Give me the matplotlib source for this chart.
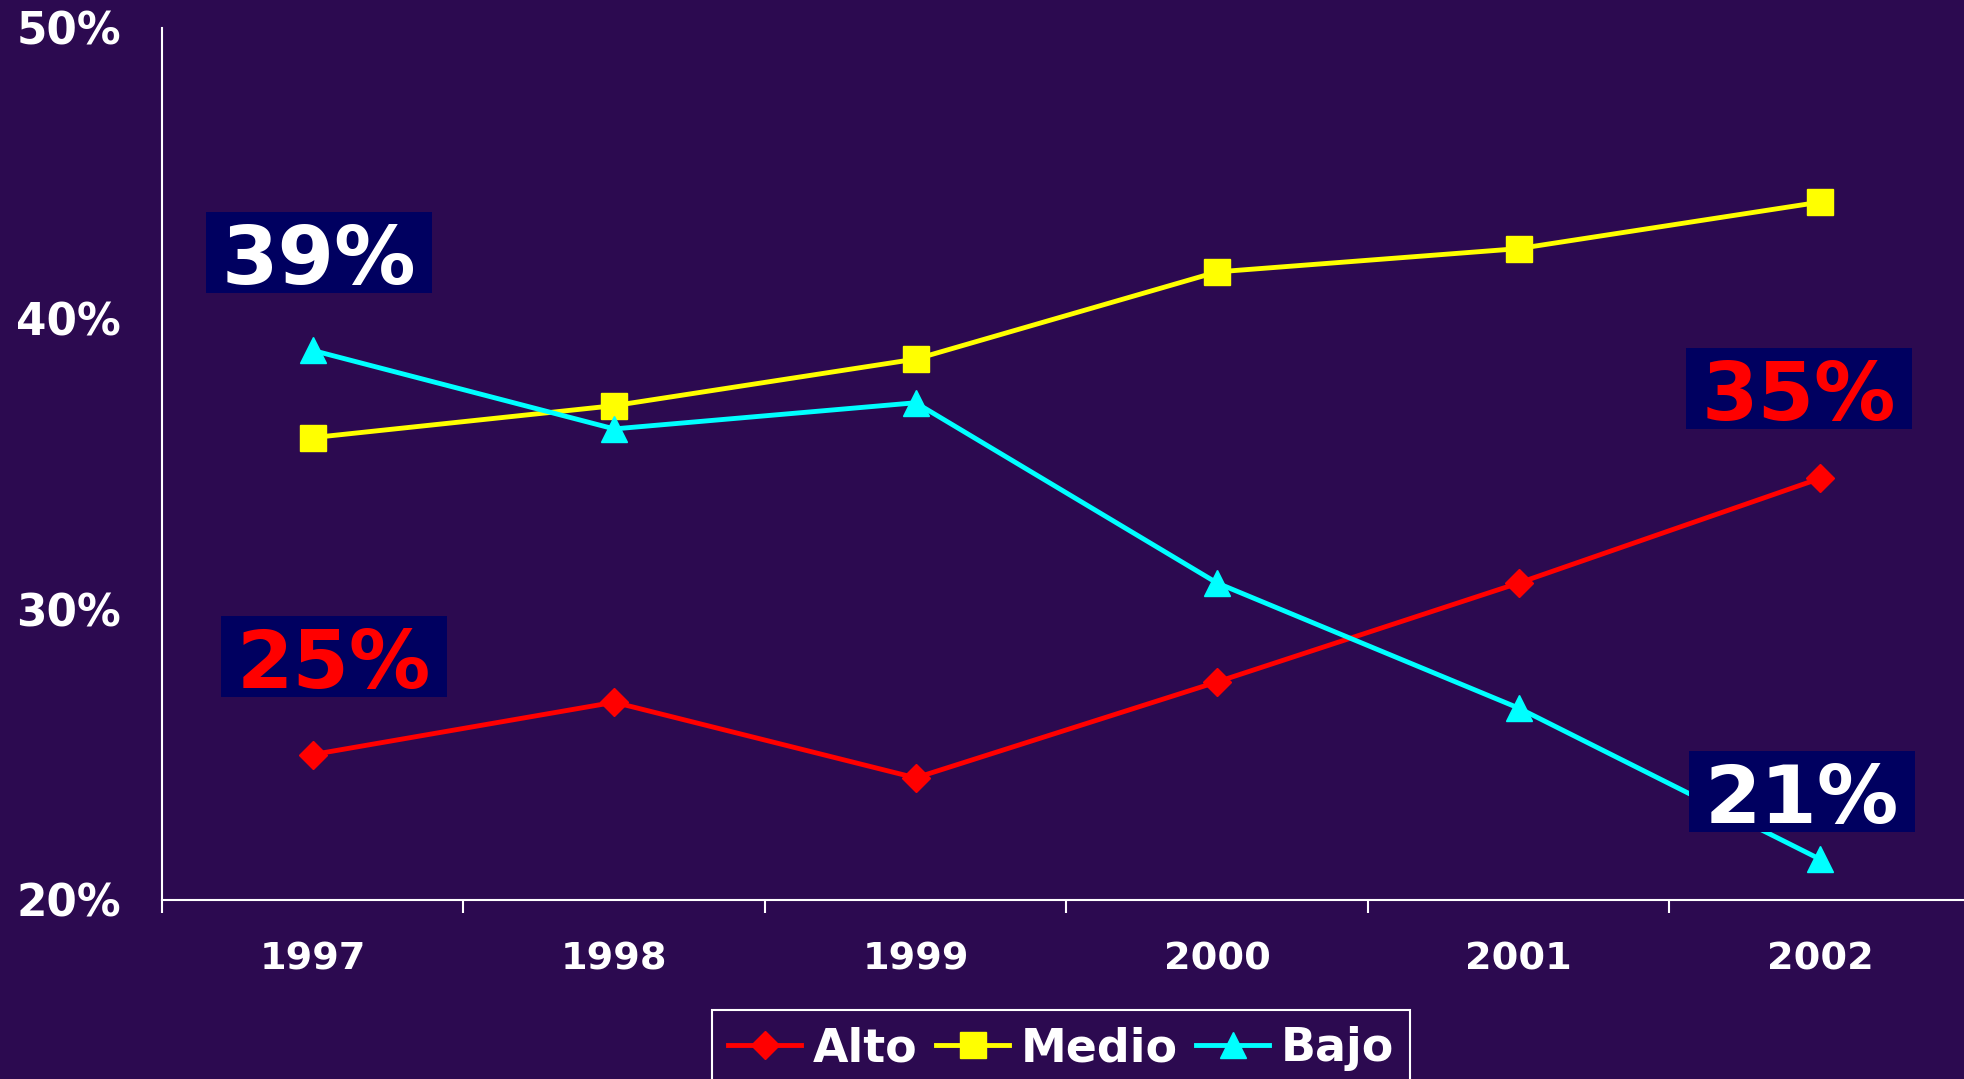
"""Line chart: share by level (Alto / Medio / Bajo), 1997-2002."""

import matplotlib
matplotlib.use("Agg")
import matplotlib.pyplot as plt
from matplotlib.patches import Rectangle
from matplotlib.transforms import ScaledTranslation

years = ["1997", "1998", "1999", "2000", "2001", "2002"]
alto = [25.0, 26.8, 24.2, 27.5, 30.9, 34.5]
medio = [35.9, 37.0, 38.6, 41.6, 42.4, 44.0]
bajo = [38.9, 36.2, 37.1, 30.9, 26.6, 21.4]
y_ticks = [20, 30, 40, 50]

# callout boxes: text, text colour, centre (category index, percent)
callout_text = ["39%", "35%", "25%", "21%"]
callout_color = ["white", "#FF0000", "#FF0000", "white"]
callout_x = [0.02, 4.93, 0.07, 4.94]
callout_y = [42.27, 37.59, 28.36, 23.72]

BG = "#2C0A50"
BOX = "#000060"

plt.rcParams["font.family"] = ["DejaVu Sans"]
plt.rcParams["font.weight"] = "bold"

fig = plt.figure(figsize=(19.65, 10.79), dpi=100, facecolor=BG)
ax = fig.add_axes([0.0824, 0.1659, 0.9206, 0.8085], facecolor=BG)

x = list(range(len(years)))
ax.plot(x, alto, color="#FF0000", lw=3.5, marker="D", ms=14, label="Alto")
ax.plot(x, medio, color="#FFFF00", lw=3.5, marker="s", ms=18.5, label="Medio")
ax.plot(x, bajo, color="#00FFFF", lw=3.5, marker="^", ms=19, label="Bajo")

ax.set_xlim(-0.5, 5.5)
ax.set_ylim(20, 50)

for side in ["top", "right"]:
    ax.spines[side].set_visible(False)
for side in ["left", "bottom"]:
    ax.spines[side].set_color("white")
    ax.spines[side].set_linewidth(1.5)

# category separators as major ticks, year labels on minor ticks
ax.set_xticks([i - 0.5 for i in range(len(years) + 1)])
ax.set_xticklabels([])
ax.set_xticks(x, minor=True)
ax.set_xticklabels(years, minor=True)
ax.tick_params(axis="x", which="major", length=9.5, width=1.5, color="white",
               direction="out")
ax.tick_params(axis="x", which="minor", length=0, pad=30, labelsize=27.5,
               labelcolor="white")

ax.set_yticks(y_ticks)
ax.set_yticklabels([f"{v}%" for v in y_ticks])
ax.tick_params(axis="y", length=0, pad=29.5, labelsize=31.5, labelcolor="white")

# callouts
box_w = 226 / 1809
box_h = 81 / 872
off = ScaledTranslation(0, 9 / 100, fig.dpi_scale_trans)
for txt, col, cx, cy in zip(callout_text, callout_color, callout_x, callout_y):
    fx = (cx + 0.5) / 6
    fy = (cy - 20) / 30
    ax.add_patch(Rectangle((fx - box_w / 2, fy - box_h / 2), box_w, box_h,
                           transform=ax.transAxes, facecolor=BOX,
                           edgecolor="none", zorder=5, clip_on=False))
    ax.text(fx, fy - box_h / 2, txt, transform=ax.transAxes + off,
            ha="center", va="baseline", fontsize=58.5, fontweight="bold",
            color=col, zorder=6)

leg = ax.legend(loc="upper left", bbox_to_anchor=(712 / 1965, 1 - 1010 / 1079),
                bbox_transform=fig.transFigure, ncol=3, fontsize=33,
                frameon=True, fancybox=False, framealpha=1, facecolor=BG,
                edgecolor="white", borderaxespad=0, borderpad=0.35,
                handlelength=1.6, handletextpad=0.25, columnspacing=0.4,
                labelcolor="white")
leg.get_frame().set_linewidth(1.5)

fig.savefig("out.png", dpi=100, facecolor=BG)
